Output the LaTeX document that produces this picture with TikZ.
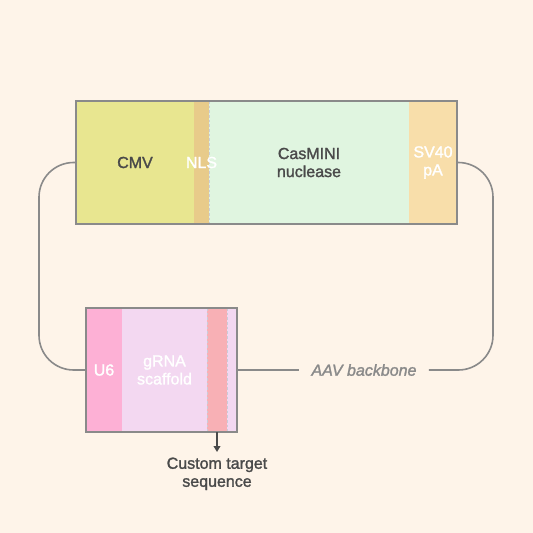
\documentclass[tikz,border=0pt]{standalone}
\usepackage{xcolor}
\usepackage{fontspec}
\setmainfont{Liberation Sans}[FakeBold=1.6]
\usepackage{tikz}
\usetikzlibrary{positioning,fit,arrows.meta}
\definecolor{bgcol}{HTML}{FEF4E9}
\definecolor{cmvcol}{HTML}{E8E690}
\definecolor{nlscol}{HTML}{E8CB8A}
\definecolor{cascol}{HTML}{E0F5E0}
\definecolor{svcol}{HTML}{F8DEAA}
\definecolor{u6col}{HTML}{FDB0D5}
\definecolor{grnacol}{HTML}{F3D8F1}
\definecolor{tgtcol}{HTML}{F8B0B5}
\definecolor{darktxt}{HTML}{4A4A4A}
\definecolor{edgecol}{HTML}{8A8A8A}
\definecolor{sepcol}{HTML}{C9CDD8}

\begin{document}
\begin{tikzpicture}[x=0.75pt,y=-0.75pt,
  seg/.style={inner sep=0pt,outer sep=0pt,minimum height=92.25pt,align=center,font=\fontsize{12}{13.5}\selectfont},
  seg2/.style={seg,minimum height=93pt},
  frame/.style={draw=edgecol,line width=1.5pt,inner sep=0pt},
  wire/.style={draw=edgecol,line width=1.2pt,rounded corners=26pt},
  sep/.style={sepcol,line width=0.7pt,dash pattern=on 2pt off 1.5pt},
  pointer/.style={darktxt,line width=1.2pt,shorten >=3pt,-{Triangle[length=4.5pt,width=5pt]}},
  caption/.style={text=darktxt,align=center,inner sep=1pt,font=\fontsize{12}{13.5}\selectfont}]
\fill[bgcol] (0,0) rectangle (533,533);
\useasboundingbox (0,0) rectangle (533,533);
% CasMINI cassette
\node[seg,fill=cmvcol,text=darktxt,minimum width=88.5pt,anchor=north west] (cmv) at (76,101) {CMV};
\node[seg,fill=cascol,text=darktxt,minimum width=150pt,right=11.25pt of cmv] (nuc) {CasMINI\\nuclease};
\draw[sep] (nuc.north west) -- (nuc.south west);
\node[seg,fill=nlscol,minimum width=11.25pt,right=0pt of cmv,
  label={[white,font=\fontsize{12}{13.5}\selectfont]center:NLS}] (nls) {};
\node[seg,fill=svcol,text=white,minimum width=36pt,right=0pt of nuc] (sv) {SV40\\pA};
\node[frame,fit=(cmv)(sv)] (cas) {};
% guide cassette
\node[seg2,fill=u6col,text=white,minimum width=27pt,anchor=north west] (u6) at (86,308) {U6};
\node[seg2,fill=grnacol,text=white,minimum width=63.75pt,right=0pt of u6] (grna) {gRNA\\scaffold};
\node[seg2,fill=tgtcol,minimum width=15pt,right=0pt of grna] (tgt) {};
\node[seg2,fill=grnacol,minimum width=7.5pt,right=0pt of tgt] (tail) {};
\draw[sep] (tgt.north west) -- (tgt.south west);
\draw[sep] (tgt.north east) -- (tgt.south east);
\node[frame,fit=(u6)(tail)] (guide) {};
% backbone
\node[text=edgecol,inner sep=9pt,font=\fontsize{12}{13.5}\selectfont\itshape] (aav) at (364,370) {AAV backbone};
\draw[wire] (cas.west) -- ++(-27pt,0) |- (guide.west);
\draw[wire] (guide.east) -- (aav.west);
\draw[wire] (aav.east) -| ([xshift=26.25pt]cas.east) -- (cas.east);
\node[caption,below=18pt of tgt] (custom) {Custom target\\sequence};
\draw[pointer] (tgt.south) -- (custom.north);
\end{tikzpicture}
\end{document}
